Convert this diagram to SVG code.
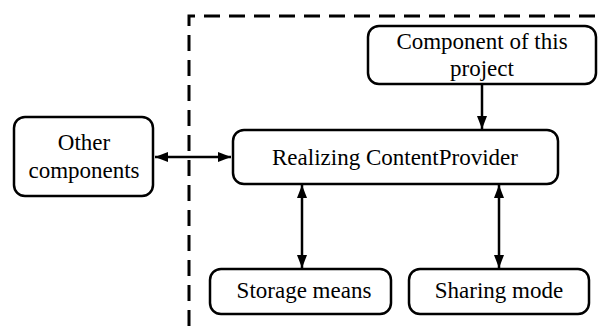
<svg xmlns="http://www.w3.org/2000/svg" width="601" height="334" viewBox="0 0 601 334">
  <style>
    .box { fill: #fff; stroke: #000; stroke-width: 2.5; }
    .lbl { font-family: "Liberation Serif", "Times New Roman", serif; font-size: 23px; fill: #000; text-anchor: middle; }
    .con { stroke: #000; stroke-width: 2.5; fill: none; }
    .boundary { stroke: #000; stroke-width: 3; fill: none; stroke-dasharray: 16 9; }
  </style>
  <defs>
    <marker id="arrow" viewBox="0 0 13 10" refX="13" refY="5" markerWidth="13" markerHeight="10" markerUnits="userSpaceOnUse" orient="auto-start-reverse">
      <path d="M0,0 L13,5 L0,10 Z" fill="#000"/>
    </marker>
  </defs>

  <rect width="601" height="334" fill="#fff"/>

  <!-- project boundary -->
  <path class="boundary" d="M189,326 V16 H601"/>

  <!-- connectors -->
  <g id="connectors">
    <line class="con" x1="155" y1="157" x2="231" y2="157" marker-start="url(#arrow)" marker-end="url(#arrow)"/>
    <line class="con" x1="482" y1="85" x2="482" y2="129" marker-end="url(#arrow)"/>
    <line class="con" x1="302" y1="185" x2="302" y2="268" marker-start="url(#arrow)" marker-end="url(#arrow)"/>
    <line class="con" x1="499" y1="185" x2="499" y2="268" marker-start="url(#arrow)" marker-end="url(#arrow)"/>
  </g>

  <g id="other-components">
    <rect class="box" x="14" y="117" width="139" height="79" rx="11"/>
    <text class="lbl" x="84" y="150">Other</text>
    <text class="lbl" x="84" y="178">components</text>
  </g>

  <g id="component-of-project">
    <rect class="box" x="368" y="26" width="228" height="58" rx="11"/>
    <text class="lbl" x="482" y="49">Component of this</text>
    <text class="lbl" x="482" y="76">project</text>
  </g>

  <g id="realizing-contentprovider">
    <rect class="box" x="233" y="130" width="325" height="54" rx="11"/>
    <text class="lbl" x="395" y="165">Realizing ContentProvider</text>
  </g>

  <g id="storage-means">
    <rect class="box" x="210" y="269" width="181" height="45" rx="11"/>
    <text class="lbl" x="304" y="298">Storage means</text>
  </g>

  <g id="sharing-mode">
    <rect class="box" x="409" y="269" width="180" height="45" rx="11"/>
    <text class="lbl" x="499" y="298">Sharing mode</text>
  </g>
</svg>
